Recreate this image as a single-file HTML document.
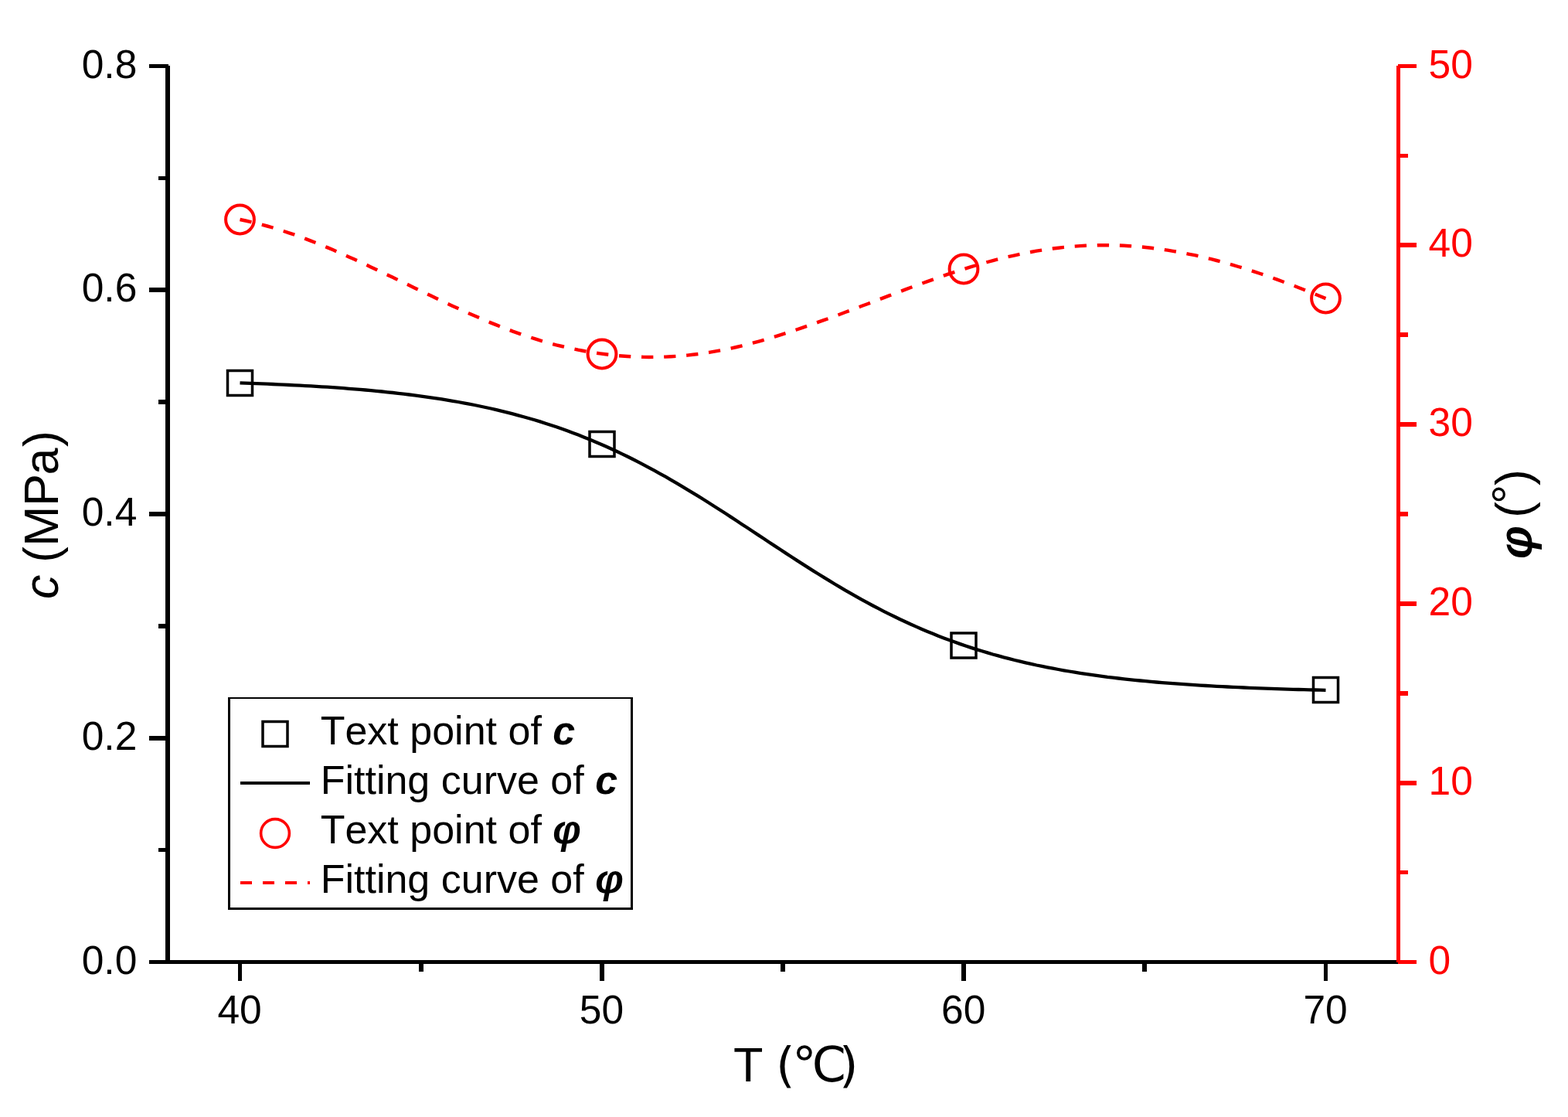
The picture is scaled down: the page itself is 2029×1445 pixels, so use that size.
<!DOCTYPE html>
<html lang="en">
<head>
<meta charset="utf-8">
<title>c and φ versus T</title>
<style>
html,body{margin:0;padding:0;background:#fff;}
body{width:2029px;height:1445px;overflow:hidden;}
svg{display:block;}
text{font-family:"Liberation Sans","Noto Sans CJK SC",sans-serif;font-kerning:none;}
.tk{font-size:51.5px;}
.ti{font-size:63px;}
.lg{font-size:52px;}
.bi{font-weight:bold;font-style:italic;}
.it{font-style:italic;}
</style>
</head>
<body>
<svg width="2029" height="1445" viewBox="0 0 2029 1445">
<rect x="0" y="0" width="2029" height="1445" fill="#ffffff"/>
<g shape-rendering="crispEdges">
<rect x="214" y="85" width="6" height="1162" fill="#000"/>
<rect x="193" y="83" width="25" height="5" fill="#000"/>
<rect x="205" y="228" width="13" height="5" fill="#000"/>
<rect x="193" y="372" width="25" height="6" fill="#000"/>
<rect x="205" y="517" width="13" height="6" fill="#000"/>
<rect x="193" y="662" width="25" height="6" fill="#000"/>
<rect x="205" y="807" width="13" height="6" fill="#000"/>
<rect x="193" y="952" width="25" height="6" fill="#000"/>
<rect x="205" y="1097" width="13" height="5" fill="#000"/>
<rect x="193" y="1242" width="25" height="5" fill="#000"/>
<rect x="193" y="1242" width="1616" height="5" fill="#000"/>
<rect x="308" y="1244" width="5" height="25" fill="#000"/>
<rect x="542" y="1244" width="6" height="13" fill="#000"/>
<rect x="776" y="1244" width="6" height="25" fill="#000"/>
<rect x="1010" y="1244" width="6" height="13" fill="#000"/>
<rect x="1244" y="1244" width="6" height="25" fill="#000"/>
<rect x="1478" y="1244" width="6" height="13" fill="#000"/>
<rect x="1713" y="1244" width="5" height="25" fill="#000"/>
<rect x="1807" y="85" width="5" height="1160" fill="#ff0000"/>
<rect x="1809" y="83" width="24" height="5" fill="#ff0000"/>
<rect x="1809" y="199" width="13" height="5" fill="#ff0000"/>
<rect x="1809" y="314" width="24" height="6" fill="#ff0000"/>
<rect x="1809" y="430" width="13" height="6" fill="#ff0000"/>
<rect x="1809" y="546" width="24" height="6" fill="#ff0000"/>
<rect x="1809" y="662" width="13" height="6" fill="#ff0000"/>
<rect x="1809" y="778" width="24" height="6" fill="#ff0000"/>
<rect x="1809" y="894" width="13" height="6" fill="#ff0000"/>
<rect x="1809" y="1010" width="24" height="6" fill="#ff0000"/>
<rect x="1809" y="1126" width="13" height="5" fill="#ff0000"/>
<rect x="1809" y="1242" width="24" height="5" fill="#ff0000"/>
</g>
<path d="M310.5 495.4 L317.6 495.7 L324.6 495.9 L331.7 496.2 L338.7 496.4 L345.8 496.7 L352.9 497.0 L359.9 497.3 L367.0 497.6 L374.0 498.0 L381.1 498.3 L388.2 498.7 L395.2 499.1 L402.3 499.4 L409.3 499.9 L416.4 500.3 L423.5 500.7 L430.5 501.2 L437.6 501.7 L444.6 502.2 L451.7 502.8 L458.8 503.3 L465.8 503.9 L472.9 504.5 L479.9 505.2 L487.0 505.8 L494.1 506.5 L501.1 507.3 L508.2 508.0 L515.2 508.8 L522.3 509.6 L529.4 510.5 L536.4 511.4 L543.5 512.3 L550.6 513.3 L557.6 514.3 L564.7 515.3 L571.7 516.4 L578.8 517.6 L585.9 518.8 L592.9 520.0 L600.0 521.3 L607.0 522.6 L614.1 524.0 L621.2 525.5 L628.2 527.0 L635.3 528.5 L642.3 530.2 L649.4 531.8 L656.5 533.6 L663.5 535.4 L670.6 537.3 L677.6 539.2 L684.7 541.2 L691.8 543.3 L698.8 545.4 L705.9 547.7 L712.9 550.0 L720.0 552.3 L727.1 554.8 L734.1 557.3 L741.2 559.9 L748.2 562.6 L755.3 565.4 L762.4 568.2 L769.4 571.2 L776.5 574.2 L783.5 577.3 L790.6 580.5 L797.7 583.8 L804.7 587.1 L811.8 590.5 L818.8 594.0 L825.9 597.6 L833.0 601.3 L840.0 605.1 L847.1 608.9 L854.1 612.8 L861.2 616.7 L868.3 620.8 L875.3 624.9 L882.4 629.1 L889.4 633.3 L896.5 637.6 L903.6 641.9 L910.6 646.3 L917.7 650.8 L924.7 655.2 L931.8 659.8 L938.9 664.3 L945.9 668.9 L953.0 673.5 L960.0 678.2 L967.1 682.8 L974.2 687.5 L981.2 692.1 L988.3 696.8 L995.3 701.5 L1002.4 706.1 L1009.5 710.8 L1016.5 715.4 L1023.6 720.0 L1030.7 724.6 L1037.7 729.1 L1044.8 733.6 L1051.8 738.1 L1058.9 742.5 L1066.0 746.9 L1073.0 751.2 L1080.1 755.5 L1087.1 759.7 L1094.2 763.8 L1101.3 767.9 L1108.3 771.9 L1115.4 775.8 L1122.4 779.7 L1129.5 783.5 L1136.6 787.2 L1143.6 790.8 L1150.7 794.4 L1157.7 797.8 L1164.8 801.2 L1171.9 804.5 L1178.9 807.8 L1186.0 810.9 L1193.0 814.0 L1200.1 816.9 L1207.2 819.8 L1214.2 822.7 L1221.3 825.4 L1228.3 828.0 L1235.4 830.6 L1242.5 833.1 L1249.5 835.5 L1256.6 837.9 L1263.6 840.1 L1270.7 842.3 L1277.8 844.4 L1284.8 846.5 L1291.9 848.4 L1298.9 850.4 L1306.0 852.2 L1313.1 854.0 L1320.1 855.7 L1327.2 857.3 L1334.2 858.9 L1341.3 860.5 L1348.4 861.9 L1355.4 863.3 L1362.5 864.7 L1369.5 866.0 L1376.6 867.3 L1383.7 868.5 L1390.7 869.7 L1397.8 870.8 L1404.8 871.9 L1411.9 872.9 L1419.0 873.9 L1426.0 874.8 L1433.1 875.8 L1440.1 876.6 L1447.2 877.5 L1454.3 878.3 L1461.3 879.1 L1468.4 879.8 L1475.4 880.5 L1482.5 881.2 L1489.6 881.8 L1496.6 882.5 L1503.7 883.1 L1510.8 883.6 L1517.8 884.2 L1524.9 884.7 L1531.9 885.2 L1539.0 885.7 L1546.1 886.2 L1553.1 886.6 L1560.2 887.0 L1567.2 887.4 L1574.3 887.8 L1581.4 888.2 L1588.4 888.5 L1595.5 888.9 L1602.5 889.2 L1609.6 889.5 L1616.7 889.8 L1623.7 890.1 L1630.8 890.4 L1637.8 890.6 L1644.9 890.9 L1652.0 891.1 L1659.0 891.4 L1666.1 891.6 L1673.1 891.8 L1680.2 892.0 L1687.3 892.2 L1694.3 892.3 L1701.4 892.5 L1708.4 892.7 L1715.5 892.8" fill="none" stroke="#000" stroke-width="4.3" stroke-linejoin="round"/>
<path d="M310.5 284.0 L317.6 285.5 L324.6 287.1 L331.7 288.8 L338.7 290.6 L345.8 292.5 L352.9 294.5 L359.9 296.7 L367.0 299.0 L374.0 301.3 L381.1 303.7 L388.2 306.3 L395.2 308.9 L402.3 311.6 L409.3 314.4 L416.4 317.2 L423.5 320.1 L430.5 323.1 L437.6 326.2 L444.6 329.3 L451.7 332.4 L458.8 335.6 L465.8 338.8 L472.9 342.1 L479.9 345.4 L487.0 348.7 L494.1 352.1 L501.1 355.4 L508.2 358.8 L515.2 362.2 L522.3 365.6 L529.4 369.0 L536.4 372.5 L543.5 375.9 L550.6 379.3 L557.6 382.6 L564.7 386.0 L571.7 389.3 L578.8 392.6 L585.9 395.9 L592.9 399.1 L600.0 402.3 L607.0 405.5 L614.1 408.6 L621.2 411.6 L628.2 414.6 L635.3 417.6 L642.3 420.4 L649.4 423.2 L656.5 425.9 L663.5 428.6 L670.6 431.1 L677.6 433.6 L684.7 435.9 L691.8 438.2 L698.8 440.4 L705.9 442.4 L712.9 444.4 L720.0 446.3 L727.1 448.0 L734.1 449.7 L741.2 451.2 L748.2 452.7 L755.3 454.0 L762.4 455.3 L769.4 456.4 L776.5 457.4 L783.5 458.3 L790.6 459.2 L797.7 459.9 L804.7 460.5 L811.8 461.0 L818.8 461.4 L825.9 461.7 L833.0 461.9 L840.0 462.0 L847.1 461.9 L854.1 461.8 L861.2 461.6 L868.3 461.2 L875.3 460.8 L882.4 460.3 L889.4 459.6 L896.5 458.8 L903.6 458.0 L910.6 457.0 L917.7 455.9 L924.7 454.7 L931.8 453.4 L938.9 452.1 L945.9 450.6 L953.0 449.0 L960.0 447.3 L967.1 445.5 L974.2 443.7 L981.2 441.8 L988.3 439.8 L995.3 437.7 L1002.4 435.6 L1009.5 433.4 L1016.5 431.2 L1023.6 428.9 L1030.7 426.5 L1037.7 424.1 L1044.8 421.7 L1051.8 419.2 L1058.9 416.7 L1066.0 414.2 L1073.0 411.7 L1080.1 409.1 L1087.1 406.5 L1094.2 403.8 L1101.3 401.2 L1108.3 398.5 L1115.4 395.8 L1122.4 393.2 L1129.5 390.5 L1136.6 387.8 L1143.6 385.1 L1150.7 382.4 L1157.7 379.8 L1164.8 377.1 L1171.9 374.4 L1178.9 371.8 L1186.0 369.2 L1193.0 366.6 L1200.1 364.1 L1207.2 361.6 L1214.2 359.1 L1221.3 356.6 L1228.3 354.2 L1235.4 351.9 L1242.5 349.6 L1249.5 347.4 L1256.6 345.2 L1263.6 343.1 L1270.7 341.0 L1277.8 339.0 L1284.8 337.1 L1291.9 335.3 L1298.9 333.5 L1306.0 331.9 L1313.1 330.3 L1320.1 328.8 L1327.2 327.3 L1334.2 326.0 L1341.3 324.7 L1348.4 323.6 L1355.4 322.5 L1362.5 321.5 L1369.5 320.7 L1376.6 319.9 L1383.7 319.2 L1390.7 318.6 L1397.8 318.1 L1404.8 317.7 L1411.9 317.4 L1419.0 317.3 L1426.0 317.2 L1433.1 317.2 L1440.1 317.3 L1447.2 317.5 L1454.3 317.8 L1461.3 318.2 L1468.4 318.7 L1475.4 319.3 L1482.5 320.0 L1489.6 320.8 L1496.6 321.7 L1503.7 322.6 L1510.8 323.7 L1517.8 324.8 L1524.9 326.0 L1531.9 327.4 L1539.0 328.8 L1546.1 330.2 L1553.1 331.8 L1560.2 333.5 L1567.2 335.2 L1574.3 337.0 L1581.4 338.9 L1588.4 340.9 L1595.5 342.9 L1602.5 345.0 L1609.6 347.1 L1616.7 349.4 L1623.7 351.7 L1630.8 354.0 L1637.8 356.4 L1644.9 358.9 L1652.0 361.4 L1659.0 364.0 L1666.1 366.6 L1673.1 369.2 L1680.2 372.0 L1687.3 374.7 L1694.3 377.5 L1701.4 380.3 L1708.4 383.2 L1715.5 386.1" fill="none" stroke="#ff0000" stroke-width="4.4" stroke-dasharray="15.3 13.8" stroke-linejoin="round"/>
<rect x="294.5" y="479.5" width="32" height="32" fill="none" stroke="#000" stroke-width="3.5"/>
<rect x="763" y="558.5" width="32" height="32" fill="none" stroke="#000" stroke-width="3.5"/>
<rect x="1231" y="819" width="32" height="32" fill="none" stroke="#000" stroke-width="3.5"/>
<rect x="1699.5" y="876.5" width="32" height="32" fill="none" stroke="#000" stroke-width="3.5"/>
<circle cx="310.5" cy="284" r="18.4" fill="none" stroke="#ff0000" stroke-width="4"/>
<circle cx="779" cy="458" r="18.4" fill="none" stroke="#ff0000" stroke-width="4"/>
<circle cx="1247" cy="348" r="18.4" fill="none" stroke="#ff0000" stroke-width="4"/>
<circle cx="1715.5" cy="386" r="18.4" fill="none" stroke="#ff0000" stroke-width="4"/>
<text class="tk" x="177.3" y="100.5" text-anchor="end">0.8</text>
<text class="tk" x="177.3" y="390.25" text-anchor="end">0.6</text>
<text class="tk" x="177.3" y="680" text-anchor="end">0.4</text>
<text class="tk" x="177.3" y="969.75" text-anchor="end">0.2</text>
<text class="tk" x="177.3" y="1259.5" text-anchor="end">0.0</text>
<text class="tk" x="1848.5" y="100.5" fill="#ff0000">50</text>
<text class="tk" x="1848.5" y="332.3" fill="#ff0000">40</text>
<text class="tk" x="1848.5" y="564.1" fill="#ff0000">30</text>
<text class="tk" x="1848.5" y="795.9" fill="#ff0000">20</text>
<text class="tk" x="1848.5" y="1027.7" fill="#ff0000">10</text>
<text class="tk" x="1848.5" y="1259.5" fill="#ff0000">0</text>
<text class="tk" x="310.1" y="1323.6" text-anchor="middle">40</text>
<text class="tk" x="778.433" y="1323.6" text-anchor="middle">50</text>
<text class="tk" x="1246.77" y="1323.6" text-anchor="middle">60</text>
<text class="tk" x="1715.1" y="1323.6" text-anchor="middle">70</text>
<text class="ti" y="1399" x="949 987.5 1004 1025 1086">T <tspan style="font-family:'DejaVu Sans','Noto Sans CJK SC',sans-serif">(℃)</tspan></text>
<text class="ti" transform="translate(75 775) rotate(-90)" x="0 31.5 47 68 120 160.5 197" y="0"><tspan class="it">c</tspan> (MPa)</text>
<text class="ti" transform="translate(1980 723) rotate(-90)" x="0 44 53 71 95" y="2 0 0 -5.5 0"><tspan class="bi" style="font-size:61px">φ</tspan> (°)</text>
<rect x="296.5" y="903" width="521" height="272.5" fill="#fff" stroke="#000" stroke-width="2.6" shape-rendering="crispEdges"/>
<rect x="340" y="933.5" width="32" height="32" fill="none" stroke="#000" stroke-width="3.5"/>
<rect x="311" y="1011" width="90" height="4" fill="#000" shape-rendering="crispEdges"/>
<circle cx="356" cy="1078" r="18.4" fill="none" stroke="#ff0000" stroke-width="3.6"/>
<path d="M311 1142 H401" fill="none" stroke="#ff0000" stroke-width="4" stroke-dasharray="15 14"/>
<text class="lg" x="414.7" y="963" xml:space="preserve">Text point of <tspan class="bi">c</tspan></text>
<text class="lg" x="414.7" y="1027" xml:space="preserve">Fitting curve of <tspan class="bi">c</tspan></text>
<text class="lg" x="414.7" y="1091" xml:space="preserve">Text point of <tspan class="bi">φ</tspan></text>
<text class="lg" x="414.7" y="1155" xml:space="preserve">Fitting curve of <tspan class="bi">φ</tspan></text>
</svg>
</body>
</html>
